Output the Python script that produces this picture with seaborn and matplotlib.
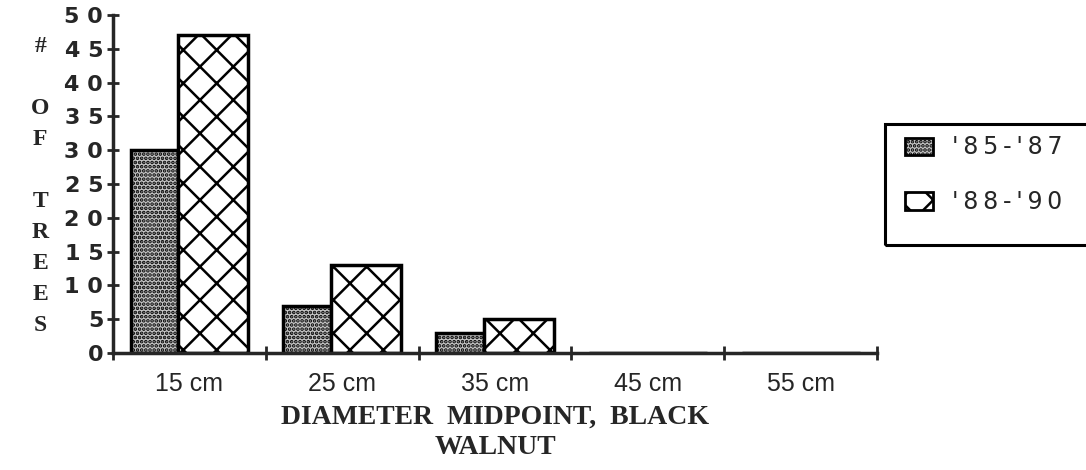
import pandas as pd
import seaborn as sns
import matplotlib.patches as mpatches
from matplotlib import pyplot as plt

sizes = ["15 cm", "25 cm", "35 cm", "45 cm", "55 cm"]
periods = ["'85-'87", "'88-'90"]
trees_85_87 = [30, 7, 3, 0, 0]
trees_88_90 = [47, 13, 5, 0, 0]
y_ticks = [0, 5, 10, 15, 20, 25, 30, 35, 40, 45, 50]

df = pd.DataFrame({
    "size": sizes * 2,
    "period": [periods[0]] * len(sizes) + [periods[1]] * len(sizes),
    "count": trees_85_87 + trees_88_90,
})

sns.set_style("white")
plt.rcParams["hatch.linewidth"] = 1.8
plt.rcParams["hatch.color"] = "black"

GRAY = "#c4c4c4"
DOTS = "...."

fig = plt.figure(figsize=(10.86, 4.70), dpi=100)
ax = fig.add_axes([0.104, 0.249, 0.7035, 0.719])

sns.barplot(
    data=df, x="size", y="count", hue="period",
    palette=[GRAY, "white"], width=0.77,
    edgecolor="black", linewidth=2.5, saturation=1,
    legend=False, ax=ax,
)

# dotted (halftone) fill for the first period, cross hatch for the second
for p in ax.containers[0]:
    p.set_hatch(DOTS)
    p.set_width(0.314)
for p in ax.containers[1]:
    p.set_hatch("x")
    p.set_x(p.get_x() - 0.072)
    p.set_width(0.458)

ax.set_xlim(-0.5, 4.5)
ax.set_ylim(0, 50)
for side in ["top", "right"]:
    ax.spines[side].set_visible(False)
for side in ["left", "bottom"]:
    ax.spines[side].set_linewidth(2.5)

ax.set_yticks(y_ticks)
ax.set_yticklabels([" ".join(str(t)) for t in y_ticks],
                   family="DejaVu Sans", fontweight="bold", fontsize=16)
ax.tick_params(axis="y", left=True, direction="inout", length=8, width=2, pad=3)

ax.set_xticks([i - 0.5 for i in range(len(sizes) + 1)])
ax.set_xticklabels([])
ax.set_xticks(range(len(sizes)), minor=True)
ax.set_xticklabels(sizes, minor=True, family="Liberation Sans", fontsize=18)
ax.tick_params(axis="x", which="major", bottom=True, direction="inout", length=10, width=2)
ax.tick_params(axis="x", which="minor", bottom=True, length=0, pad=14)

ax.set_xlabel("DIAMETER  MIDPOINT,  BLACK\nWALNUT", family="Liberation Serif",
              fontweight="bold", fontsize=20, linespacing=1.28, labelpad=6)
ax.set_ylabel("")
ylab = "\n".join("# OF TREES").replace("\n \n", "\n\n")
fig.text(0.037, 0.604, ylab, family="Liberation Serif", fontweight="bold",
         fontsize=17, ha="center", va="center", linespacing=1.62)

handles = [
    mpatches.Patch(facecolor=GRAY, edgecolor="black", hatch=DOTS, linewidth=2,
                   label="\u2009".join(periods[0])),
    mpatches.Patch(facecolor="white", edgecolor="black", hatch="x", linewidth=2,
                   label="\u2009".join(periods[1])),
]
leg = fig.legend(handles=handles, loc="center left", bbox_to_anchor=(0.833, 0.628),
                 frameon=False, prop={"family": "DejaVu Sans", "size": 17},
                 handlelength=1.2, handleheight=0.75, labelspacing=1.3,
                 borderpad=0, borderaxespad=0, handletextpad=0.8)
# legend box runs off the right edge of the page
fig.patches.append(mpatches.Rectangle((0.815, 0.479), 0.25, 0.257, transform=fig.transFigure,
                                      fill=False, edgecolor="black", linewidth=2.2, clip_on=False))

plt.savefig("out.png", dpi=100)
